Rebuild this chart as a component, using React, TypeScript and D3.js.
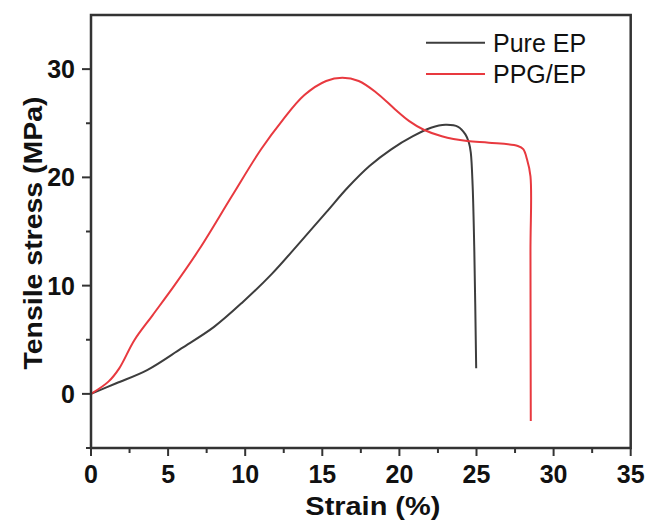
import React from "react";
import * as d3 from "d3";

const pureStrain = [0, 1.64, 3.64, 5.86, 7.98, 9.85, 11.73, 13.37, 15.25, 16.65, 18.06, 19.47, 20.88, 22.05, 22.99, 23.81, 24.28, 24.51, 24.63, 24.75, 24.86, 24.98];
const pureStress = [0, 0.98, 2.2, 4.2, 6.19, 8.49, 11.09, 13.7, 16.76, 19.06, 21.05, 22.59, 23.8, 24.58, 24.85, 24.67, 23.97, 23.2, 22.28, 19.2, 13.1, 2.36];

const ppgStrain = [0, 1.13, 1.83, 2.81, 3.99, 5.4, 7.04, 9.15, 11.03, 12.43, 13.84, 15.25, 16.3, 17.36, 18.53, 19.71, 20.64, 21.58, 22.75, 24.4, 25.8, 27.68, 28.03, 28.27, 28.5, 28.5, 28.52];
const ppgStress = [0, 1.13, 2.36, 4.96, 7.26, 10.0, 13.4, 18.3, 22.6, 25.3, 27.6, 28.9, 29.2, 28.9, 27.8, 26.3, 25.2, 24.4, 23.8, 23.35, 23.2, 22.9, 22.6, 21.7, 20.1, 13.1, -2.5];

const xTicks = [0, 5, 10, 15, 20, 25, 30, 35];
const xMinor = [2.5, 7.5, 12.5, 17.5, 22.5, 27.5, 32.5];
const yTicks = [0, 10, 20, 30];
const yMinor = [-5, 5, 15, 25];

const seriesNames = ["Pure EP", "PPG/EP"];
const seriesColors = ["#3d3d3d", "#e8393f"];

const FONT = "'Liberation Sans', Arial, Helvetica, sans-serif";

export default function App() {
  const W = 648, H = 525;
  const left = 91, right = 630.7, top = 15, bottom = 448;
  const x = d3.scaleLinear().domain([0, 35]).range([left, right]);
  const y = d3.scaleLinear().domain([-5, 35]).range([bottom, top]);

  const line = d3
    .line<[number, number]>()
    .x((d) => x(d[0]))
    .y((d) => y(d[1]))
    .curve(d3.curveCatmullRom.alpha(0.5));

  const pure = pureStrain.map((v, i) => [v, pureStress[i]] as [number, number]);
  const ppg = ppgStrain.map((v, i) => [v, ppgStress[i]] as [number, number]);
  const series = [pure, ppg];

  const axisColor = "#333";

  return (
    <svg
      width={W}
      height={H}
      style={{ position: "absolute", left: 0, top: 0, background: "#fff" }}
      fontFamily={FONT}
    >
      <rect x={0} y={0} width={W} height={H} fill="#fff" />
      {/* data */}
      {series.map((s, i) => (
        <path key={i} d={line(s) || ""} fill="none" stroke={seriesColors[i]} strokeWidth={2} strokeLinejoin="round" />
      ))}

      {/* frame */}
      <rect x={left} y={top} width={right - left} height={bottom - top} fill="none" stroke={axisColor} strokeWidth={2.5} />

      {/* x ticks */}
      {xTicks.map((t) => (
        <g key={"xt" + t}>
          <line x1={x(t)} x2={x(t)} y1={bottom} y2={bottom + 8} stroke={axisColor} strokeWidth={2} />
          <text x={x(t)} y={483} textAnchor="middle" fontSize={25} fontWeight="bold" fill="#111">
            {t}
          </text>
        </g>
      ))}
      {xMinor.map((t) => (
        <line key={"xm" + t} x1={x(t)} x2={x(t)} y1={bottom} y2={bottom + 5} stroke={axisColor} strokeWidth={2} />
      ))}

      {/* y ticks */}
      {yTicks.map((t) => (
        <g key={"yt" + t}>
          <line x1={left - 9} x2={left} y1={y(t)} y2={y(t)} stroke={axisColor} strokeWidth={2} />
          <text x={75} y={y(t) + 9} textAnchor="end" fontSize={25} fontWeight="bold" fill="#111">
            {t}
          </text>
        </g>
      ))}
      {yMinor.map((t) => (
        <line key={"ym" + t} x1={left - 5} x2={left} y1={y(t)} y2={y(t)} stroke={axisColor} strokeWidth={2} />
      ))}

      {/* axis titles */}
      <text
        x={(left + right) / 2 + 12}
        y={515}
        textAnchor="middle"
        fontSize={25}
        fontWeight="bold"
        fill="#111"
        textLength={135}
        lengthAdjust="spacingAndGlyphs"
      >
        Strain (%)
      </text>
      <text
        transform={`translate(42, 233) rotate(-90)`}
        textAnchor="middle"
        fontSize={25}
        fontWeight="bold"
        fill="#111"
        textLength={273}
        lengthAdjust="spacingAndGlyphs"
      >
        Tensile stress (MPa)
      </text>

      {/* legend */}
      {seriesNames.map((n, i) => (
        <g key={n}>
          <line x1={426} x2={485} y1={42.7 + i * 31.3} y2={42.7 + i * 31.3} stroke={seriesColors[i]} strokeWidth={2} />
          <text x={493} y={51.7 + i * 31} fontSize={25} fill="#111">
            {n}
          </text>
        </g>
      ))}
    </svg>
  );
}
